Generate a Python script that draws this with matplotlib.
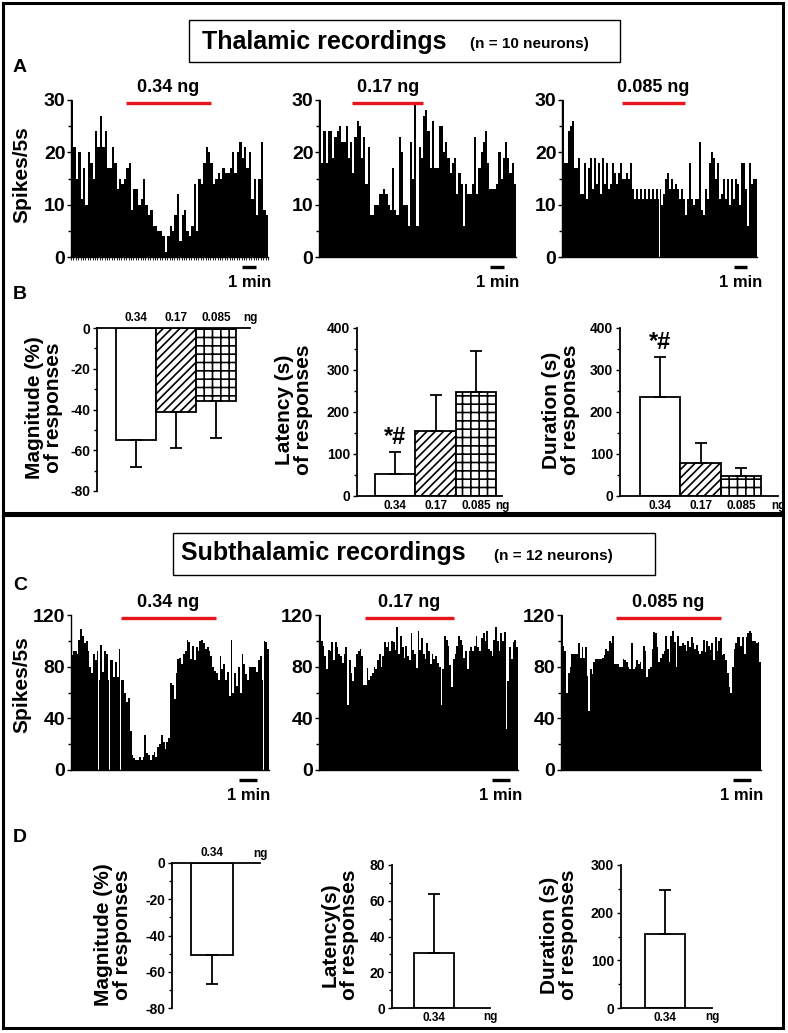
import numpy as np
import matplotlib.pyplot as plt
from matplotlib.patches import Rectangle

# spike counts per 5 s bin
thal_034 = [30, 21, 15, 20, 11, 17, 10, 20, 18, 15, 24, 21, 27, 21, 24, 17, 17, 21, 18, 13,
            15, 14, 15, 17, 18, 9, 13, 13, 10, 11, 15, 10, 8, 9, 6, 6, 5, 5, 4, 1,
            4, 6, 5, 8, 12, 3, 8, 9, 5, 4, 6, 14, 5, 15, 14, 18, 21, 20, 18, 14,
            15, 16, 15, 17, 16, 16, 17, 20, 16, 20, 22, 19, 21, 17, 20, 11, 15, 8, 15, 22,
            9, 8]
thal_017 = [30, 18, 24, 18, 24, 24, 19, 23, 24, 25, 22, 22, 25, 19, 22, 16, 23, 26, 25, 19,
            23, 14, 21, 8, 8, 10, 10, 12, 12, 13, 12, 10, 9, 17, 9, 8, 23, 20, 10, 10,
            6, 22, 15, 29, 6, 21, 19, 27, 28, 24, 17, 26, 17, 17, 25, 25, 20, 22, 19, 16,
            18, 19, 12, 16, 14, 6, 14, 12, 12, 14, 23, 12, 17, 20, 22, 24, 18, 13, 13, 13,
            14, 20, 15, 19, 22, 19, 16, 18, 14]
thal_0085 = [30, 18, 18, 24, 25, 26, 17, 17, 19, 12, 12, 18, 11, 17, 19, 13, 19, 14, 18, 12,
             19, 14, 18, 13, 14, 18, 16, 14, 16, 18, 15, 15, 16, 15, 18, 13, 11, 13, 11, 13,
             11, 13, 11, 13, 11, 13, 11, 13, 11, 13, 10, 12, 15, 16, 13, 15, 13, 14, 13, 11,
             13, 11, 8, 11, 18, 11, 10, 11, 11, 22, 9, 8, 13, 11, 18, 20, 19, 15, 18, 11,
             12, 15, 11, 15, 10, 15, 11, 15, 14, 10, 18, 18, 13, 6, 18, 14, 15, 15]
sub_034 = [89, 92, 92, 90, 101, 109, 104, 98, 100, 92, 80, 75, 90, 85, 92, 70, 97, 76, 92, 90,
           70, 85, 85, 72, 84, 72, 94, 70, 70, 60, 53, 56, 30, 12, 9, 8, 8, 10, 8, 10,
           27, 13, 12, 8, 12, 14, 10, 18, 20, 27, 22, 16, 22, 25, 67, 66, 55, 75, 86, 87,
           82, 90, 92, 101, 99, 86, 96, 85, 95, 92, 100, 101, 98, 94, 95, 92, 88, 80, 77, 75,
           70, 88, 78, 82, 70, 76, 57, 101, 60, 75, 65, 80, 60, 90, 82, 74, 70, 80, 80, 80,
           80, 76, 85, 88, 70, 100, 99, 94]
sub_017 = [120, 100, 96, 88, 78, 93, 92, 99, 85, 99, 95, 90, 88, 83, 90, 95, 50, 85, 75, 69,
           80, 90, 92, 94, 88, 66, 66, 79, 70, 73, 75, 80, 78, 85, 90, 80, 88, 99, 95, 99,
           92, 100, 99, 93, 111, 90, 104, 95, 87, 96, 88, 85, 106, 93, 90, 79, 108, 93, 102, 90,
           86, 98, 92, 82, 90, 86, 88, 83, 80, 50, 78, 104, 101, 96, 81, 64, 86, 90, 96, 104,
           101, 97, 87, 92, 78, 92, 95, 92, 96, 104, 95, 92, 102, 106, 100, 108, 94, 92, 88, 101,
           111, 100, 92, 106, 100, 107, 32, 69, 95, 86, 99, 101, 95]
sub_0085 = [120, 96, 92, 60, 75, 80, 90, 90, 90, 90, 98, 87, 95, 87, 95, 73, 46, 78, 74, 84,
            86, 86, 86, 86, 87, 89, 94, 92, 100, 98, 104, 82, 82, 82, 80, 80, 86, 85, 84, 80,
            78, 98, 78, 80, 85, 82, 84, 78, 96, 92, 72, 78, 80, 94, 107, 106, 95, 84, 87, 90,
            92, 104, 94, 84, 104, 108, 99, 80, 104, 96, 96, 98, 97, 92, 100, 95, 103, 98, 94, 97,
            92, 90, 92, 101, 91, 100, 96, 93, 98, 85, 103, 92, 100, 102, 89, 90, 85, 75, 64, 60,
            80, 94, 98, 103, 103, 96, 103, 90, 103, 106, 108, 106, 100, 100, 98, 99, 84]

doses = ['0.34', '0.17', '0.085']
thal_magnitude = [-55, -41, -36]
thal_magnitude_sem = [13, 18, 18]
thal_latency = [53, 155, 248]
thal_latency_sem = [52, 85, 97]
thal_duration = [235, 78, 48]
thal_duration_sem = [95, 47, 19]
sub_magnitude = [-51]
sub_magnitude_sem = [16]
sub_latency = [31]
sub_latency_sem = [33]
sub_duration = [155]
sub_duration_sem = [92]

plt.rcParams['axes.unicode_minus'] = False
plt.rcParams['hatch.linewidth'] = 1.2
W, H = 788, 1033
fig = plt.figure(figsize=(W / 100, H / 100), dpi=100)
FONT = ['Liberation Sans', 'DejaVu Sans']


def px_axes(x0, y0, x1, y1):
    return fig.add_axes([x0 / W, 1 - y1 / H, (x1 - x0) / W, (y1 - y0) / H])


def ftext(x, y, s, **kw):
    fig.text(x / W, 1 - y / H, s, **kw)


def frame(x0, y0, x1, y1, lw):
    fig.add_artist(Rectangle((x0 / W, 1 - y1 / H), (x1 - x0) / W, (y1 - y0) / H,
                             transform=fig.transFigure, fill=False, lw=lw, ec='black'))


def bold_ticks(ax, size):
    for lab in ax.get_xticklabels() + ax.get_yticklabels():
        lab.set_family(FONT)
        lab.set_weight('bold')
        lab.set_size(size)


def histogram(box, counts, ymax, step, stim, dose, scale_bar, dots=False):
    ax = px_axes(*box)
    n = len(counts)
    ax.bar(np.arange(n), counts, width=1.0, align='edge', color='black', linewidth=0)
    ax.set_xlim(0, n)
    ax.set_ylim(0, ymax)
    ax.spines[['top', 'right']].set_visible(False)
    ax.spines[['left', 'bottom']].set_linewidth(1.0)
    ax.set_yticks(np.arange(0, ymax + 1, step))
    ax.set_yticks(np.arange(step / 2, ymax, step), minor=True)
    ax.tick_params(axis='y', which='major', length=3, width=1, pad=1)
    ax.tick_params(axis='y', which='minor', length=2, width=1)
    ax.set_xticks([])
    if dots:
        ax.set_xticks(np.arange(n + 1), minor=True)
        ax.tick_params(axis='x', which='minor', length=2, width=0.6)
    bold_ticks(ax, 14)
    ax.plot(stim, [0.98, 0.98], transform=ax.transAxes, color='#e8161c', lw=2.4,
            clip_on=False, solid_capstyle='butt')
    ax.text(np.mean(stim), 1.08, dose + ' ng', transform=ax.transAxes, ha='center',
            va='center', family=FONT, weight='bold', size=13)
    ax.plot(scale_bar, [-0.065, -0.065], transform=ax.transAxes, color='black', lw=2.4,
            clip_on=False, solid_capstyle='butt')
    ax.text(np.mean(scale_bar), -0.165, '1 min', transform=ax.transAxes, ha='center',
            va='center', family=FONT, weight='bold', size=12)
    return ax


def bar_panel(box, vals, sems, ylim, step, start, span, stars=False):
    ax = px_axes(*box)
    vals = np.array(vals)
    sems = np.array(sems)
    x = start + np.arange(len(vals))
    for xi, v, h in zip(x, vals, ['', '////', '++']):
        ax.bar(xi, v, width=1.0, align='edge', color='white', edgecolor='black',
               linewidth=1.3, hatch=h)
    zeros = np.zeros(len(vals))
    neg = vals[0] < 0
    yerr = [sems, zeros] if neg else [zeros, sems]
    ax.errorbar(x + 0.5, vals, yerr=yerr, fmt='none', ecolor='black', elinewidth=1.3,
                capsize=4, capthick=1.3)
    ax.set_xlim(0, span)
    ax.set_ylim(*ylim)
    ax.spines['right'].set_visible(False)
    ax.spines['bottom' if neg else 'top'].set_visible(False)
    ax.spines[['left', 'top', 'bottom']].set_linewidth(1.3)
    ax.set_yticks(np.arange(ylim[0], ylim[1] + 1, step))
    ax.set_yticks(np.arange(ylim[0] + step / 2, ylim[1], step), minor=True)
    ax.tick_params(axis='y', which='major', length=3, width=1, pad=2)
    ax.tick_params(axis='y', which='minor', length=2, width=1)
    if neg:
        ax.xaxis.tick_top()
    ax.set_xticks(x + 0.5)
    ax.set_xticklabels(doses[:len(vals)])
    ax.tick_params(axis='x', length=0, pad=3)
    bold_ticks(ax, 10)
    for lab in ax.get_xticklabels():
        lab.set_size(8.5)
    ax.text(1.0, 1.06 if neg else -0.06, 'ng', transform=ax.transAxes, ha='center',
            va='center', family=FONT, weight='bold', size=8.5)
    if stars:
        ax.text(x[0] + 0.5, vals[0] + sems[0] + ylim[1] * 0.02, '*#', ha='center',
                va='bottom', family=FONT, weight='bold', size=17)
    return ax


def ylabel(x, y, s):
    ftext(x, y, s, rotation=90, ha='center', va='center', multialignment='center',
          family=FONT, weight='bold', size=15, linespacing=1.0)


# outer frames
frame(3, 3, 783, 513, 2.2)
frame(3, 515, 783, 1028, 2.2)

# ---------------- thalamic ----------------
frame(189, 20, 620, 62, 1.0)
ftext(202, 42, 'Thalamic recordings', ha='left', va='center', family=FONT,
      weight='bold', size=18)
ftext(470, 44, '(n = 10 neurons)', ha='left', va='center', family=FONT,
      weight='bold', size=11)
ftext(20, 67, 'A', ha='center', va='center', family=FONT, weight='bold', size=14)
ftext(20, 294, 'B', ha='center', va='center', family=FONT, weight='bold', size=14)

histogram((71, 100, 268, 257), thal_034, 30, 10, [0.28, 0.71], '0.34', [0.87, 0.94], dots=True)
histogram((319, 100, 516, 257), thal_017, 30, 10, [0.17, 0.53], '0.17', [0.87, 0.94])
histogram((562, 100, 757, 257), thal_0085, 30, 10, [0.31, 0.63], '0.085', [0.88, 0.95])
ylabel(22, 175, 'Spikes/5s')

bar_panel((97, 328, 250, 491), thal_magnitude, thal_magnitude_sem, (-80, 0), 20, 0.47, 3.82)
bar_panel((357, 328, 502, 496), thal_latency, thal_latency_sem, (0, 400), 100, 0.45, 3.6,
          stars=True)
bar_panel((620, 328, 778, 496), thal_duration, thal_duration_sem, (0, 400), 100, 0.5, 3.92,
          stars=True)
ylabel(44, 408, 'Magnitude (%)\nof responses')
ylabel(294, 410, 'Latency (s)\nof responses')
ylabel(561, 410, 'Duration (s)\nof responses')

# ---------------- subthalamic ----------------
frame(173, 533, 655, 575, 1.0)
ftext(181, 553, 'Subthalamic recordings', ha='left', va='center', family=FONT,
      weight='bold', size=18)
ftext(494, 556, '(n = 12 neurons)', ha='left', va='center', family=FONT,
      weight='bold', size=11)
ftext(20, 585, 'C', ha='center', va='center', family=FONT, weight='bold', size=14)
ftext(20, 838, 'D', ha='center', va='center', family=FONT, weight='bold', size=14)

histogram((71, 615, 269, 770), sub_034, 120, 40, [0.25, 0.73], '0.34', [0.85, 0.94])
histogram((319, 615, 518, 770), sub_017, 120, 40, [0.23, 0.68], '0.17', [0.87, 0.96])
histogram((561, 615, 761, 770), sub_0085, 120, 40, [0.275, 0.80], '0.085', [0.86, 0.95])
ylabel(22, 685, 'Spikes/5s')

bar_panel((172, 863, 260, 1008), sub_magnitude, sub_magnitude_sem, (-80, 0), 20, 0.45, 2.1)
bar_panel((392, 865, 490, 1008), sub_latency, sub_latency_sem, (0, 80), 20, 0.55, 2.45)
bar_panel((621, 865, 712, 1008), sub_duration, sub_duration_sem, (0, 300), 100, 0.6, 2.28)
ylabel(113, 935, 'Magnitude (%)\nof responses')
ylabel(340, 935, 'Latency(s)\nof responses')
ylabel(559, 935, 'Duration (s)\nof responses')

fig.savefig('out.png', dpi=100)
